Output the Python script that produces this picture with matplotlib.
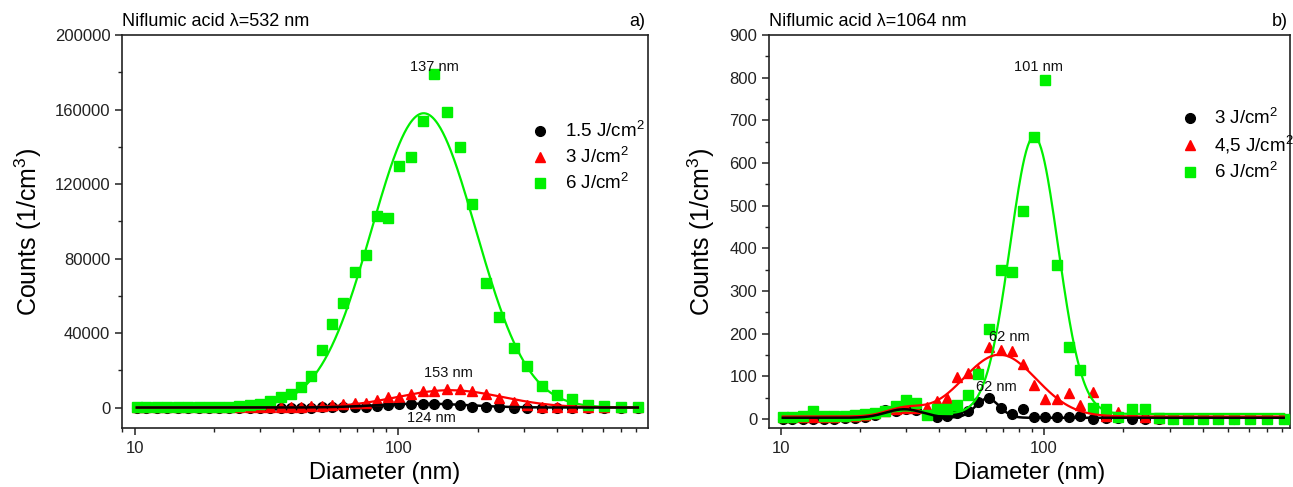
import numpy as np
import matplotlib
matplotlib.use("Agg")
import matplotlib.pyplot as plt
from matplotlib.ticker import MultipleLocator, LogLocator, NullFormatter, FixedLocator, FixedFormatter

plt.rcParams['font.family'] = ['Liberation Sans', 'DejaVu Sans']
plt.rcParams['mathtext.fontset'] = 'custom'
plt.rcParams['mathtext.rm'] = 'Liberation Sans'
plt.rcParams['mathtext.it'] = 'Liberation Sans:italic'

# ---- data ----
diameters = [10.2, 11.1, 12.2, 13.3, 14.6, 16.0, 17.5, 19.1, 20.9, 22.9, 25.0, 27.4,
             29.9, 32.7, 35.8, 39.1, 42.8, 46.9, 51.3, 56.1, 62.0, 68.5, 75.6, 83.0,
             91.6, 101, 112, 124, 137, 153, 171, 191, 215, 242, 274, 309, 350, 400,
             458, 525, 606, 699, 811]

# panel a) lambda = 532 nm
black_a = [0, 0, 0, 0, 0, 0, 0, 0, 0, 0, 0, 0, 0, 0, 0, 0, 0, 0, 50, 80, 100, 200,
           500, 900, 1400, 2000, 2100, 2100, 2000, 1800, 1250, 500, 350, 200, 0, 0,
           0, 0, 0, 0, 0, 0, 0]
red_a = [200, 200, 200, 200, 200, 200, 200, 200, 200, 200, 200, 200, 250, 250, 300,
         400, 500, 800, 1000, 1400, 1800, 2400, 2700, 3900, 5600, 5800, 7500, 8800,
         9000, 10000, 10000, 9000, 7000, 5200, 2800, 1500, 500, 200, 100, 100, 100,
         100, 100]
green_a = [300, 200, 300, 250, 300, 250, 300, 400, 350, 500, 800, 1250, 1800, 3300,
           5600, 7100, 11000, 16900, 30800, 44800, 56200, 72900, 81800, 102800,
           101500, 129600, 134600, 153800, 179000, 158800, 139700, 109200, 66600,
           48700, 31700, 22400, 11500, 6600, 4500, 1600, 700, 400, 200]

# panel b) lambda = 1064 nm
black_b = [1, 0, 0, 0, 1, 1, 2, 3, 6, 10, 22, 20, 24, 22, 12, 6, 8, 14, 18, 40, 49,
           26, 12, 23, 5, 4, 4, 6, 8, 1, 3, 2, 1, 0, 0, 0, 0, 0, 0, 0, 0, 0, 0]
red_b = [4, 5, 5, 6, 5, 6, 7, 8, 10, 14, 20, 24, 27, 25, 28, 42, 49, 98, 108, 115,
         168, 163, 160, 130, 80, 46, 46, 61, 33, 63, 8, 16, 20, 6, 2, 2, 2, 2, 2, 2,
         2, 2, 2]
green_b = [4, 5, 7, 20, 8, 8, 8, 10, 12, 15, 18, 31, 44, 38, 10, 24, 24, 32, 57, 106,
           211, 349, 345, 487, 661, 794, 361, 169, 116, 26, 24, 6, 24, 24, 2, 1, 1,
           1, 1, 1, 1, 1, 1]

labels_a = ["1.5 J/cm$^2$", "3 J/cm$^2$", "6 J/cm$^2$"]
labels_b = ["3 J/cm$^2$", "4,5 J/cm$^2$", "6 J/cm$^2$"]

# log-normal fit parameters: baseline, [(amplitude, centre nm, sigma in decades)]
fit_black_a = (0, [(2100, 124, 0.17)])
fit_red_a = (0, [(9300, 157, 0.20)])
fit_green_a = (0, [(158000, 125, 0.197)])
fit_black_b = (3, [(45, 61, 0.045), (20, 29.5, 0.07)])
fit_red_b = (6, [(145, 67.8, 0.139), (18, 29.5, 0.07)])
fit_green_b = (12, [(650, 91.6, 0.091), (8, 30, 0.08)])

peaks_a = [("137 nm", 137, 183000), ("153 nm", 155, 18400), ("124 nm", 134, -5700)]
peaks_b = [("101 nm", 95.5, 825), ("62 nm", 74, 192), ("62 nm", 66, 75)]

GREEN = '#00F000'
RED = '#FF0000'
BLACK = '#000000'


def fit_curve(d, params):
    base, comps = params
    ld = np.log10(d)
    y = np.full_like(ld, base, dtype=float)
    for a, c, s in comps:
        y += a * np.exp(-(ld - np.log10(c)) ** 2 / (2 * s ** 2))
    return y


fig = plt.figure(figsize=(12.93, 4.87), dpi=100)
axA = fig.add_axes([0.0944, 0.1211, 0.4068, 0.8070])
axB = fig.add_axes([0.5947, 0.1211, 0.4030, 0.8070])

dgrid = np.logspace(np.log10(diameters[0]), np.log10(diameters[-1]), 600)


def panel(ax, series, fits, labels, ylim, xlim, major, minor, title, tag, peaks, ylabelpad):
    black, red, green = series
    hb, = ax.plot(diameters, black, 'o', color=BLACK, ms=7, ls='none', zorder=3, label=labels[0])
    hr, = ax.plot(diameters, red, '^', color=RED, ms=7.5, ls='none', zorder=3.1, label=labels[1])
    hg, = ax.plot(diameters, green, 's', color=GREEN, ms=6.5, ls='none', zorder=3.2, label=labels[2])
    fb, fr, fg = fits
    ax.plot(dgrid, fit_curve(dgrid, fg), color=GREEN, lw=1.6, zorder=4)
    ax.plot(dgrid, fit_curve(dgrid, fr), color=RED, lw=1.6, zorder=4.1)
    ax.plot(dgrid, fit_curve(dgrid, fb), color=BLACK, lw=1.8, zorder=4.2)

    ax.set_xscale('log')
    ax.set_xlim(*xlim)
    ax.set_ylim(*ylim)
    ax.xaxis.set_major_locator(FixedLocator([10, 100]))
    ax.xaxis.set_major_formatter(FixedFormatter(['10', '100']))
    ax.xaxis.set_minor_locator(LogLocator(base=10, subs=np.arange(2, 10)))
    ax.xaxis.set_minor_formatter(NullFormatter())
    ax.yaxis.set_major_locator(MultipleLocator(major))
    ax.yaxis.set_minor_locator(MultipleLocator(minor))
    ax.tick_params(axis='both', which='major', direction='out', length=5, width=1.1,
                   labelsize=12, top=False, right=False, colors='#222222')
    ax.tick_params(axis='both', which='minor', direction='out', length=3, width=1.0,
                   top=False, right=False, colors='#222222')
    ax.tick_params(axis='x', which='major', pad=4)
    for sp in ax.spines.values():
        sp.set_linewidth(1.2)
        sp.set_color('#222222')
    ax.set_xlabel('Diameter (nm)', fontsize=17, labelpad=5)
    ax.set_ylabel('Counts (1/cm$^3$)', fontsize=18, labelpad=ylabelpad)
    ax.text(0.0, 1.012, title, transform=ax.transAxes, ha='left', va='bottom', fontsize=13)
    ax.text(0.995, 1.012, tag, transform=ax.transAxes, ha='right', va='bottom', fontsize=13)
    for txt, x, y in peaks:
        ax.text(x, y, txt, ha='center', va='center', fontsize=10.5, zorder=6, color='#111111')
    return [hb, hr, hg]


hA = panel(axA, (black_a, red_a, green_a), (fit_black_a, fit_red_a, fit_green_a), labels_a,
           (-11000, 200000), (8.97, 887), 40000, 20000,
           'Niflumic acid λ=532 nm', 'a)', peaks_a, 8)
hB = panel(axB, (black_b, red_b, green_b), (fit_black_b, fit_red_b, fit_green_b), labels_b,
           (-21, 900), (9.04, 857), 100, 50,
           'Niflumic acid λ=1064 nm', 'b)', peaks_b, 9)

axA.legend(handles=hA, loc='upper left', bbox_to_anchor=(0.763, 0.80), frameon=False,
           fontsize=13.5, handletextpad=0.8, labelspacing=0.32, handlelength=1.0,
           borderaxespad=0)
axB.legend(handles=hB, loc='upper left', bbox_to_anchor=(0.775, 0.833), frameon=False,
           fontsize=13.5, handletextpad=0.8, labelspacing=0.32, handlelength=1.0,
           borderaxespad=0)

fig.savefig('out.png', dpi=100)
